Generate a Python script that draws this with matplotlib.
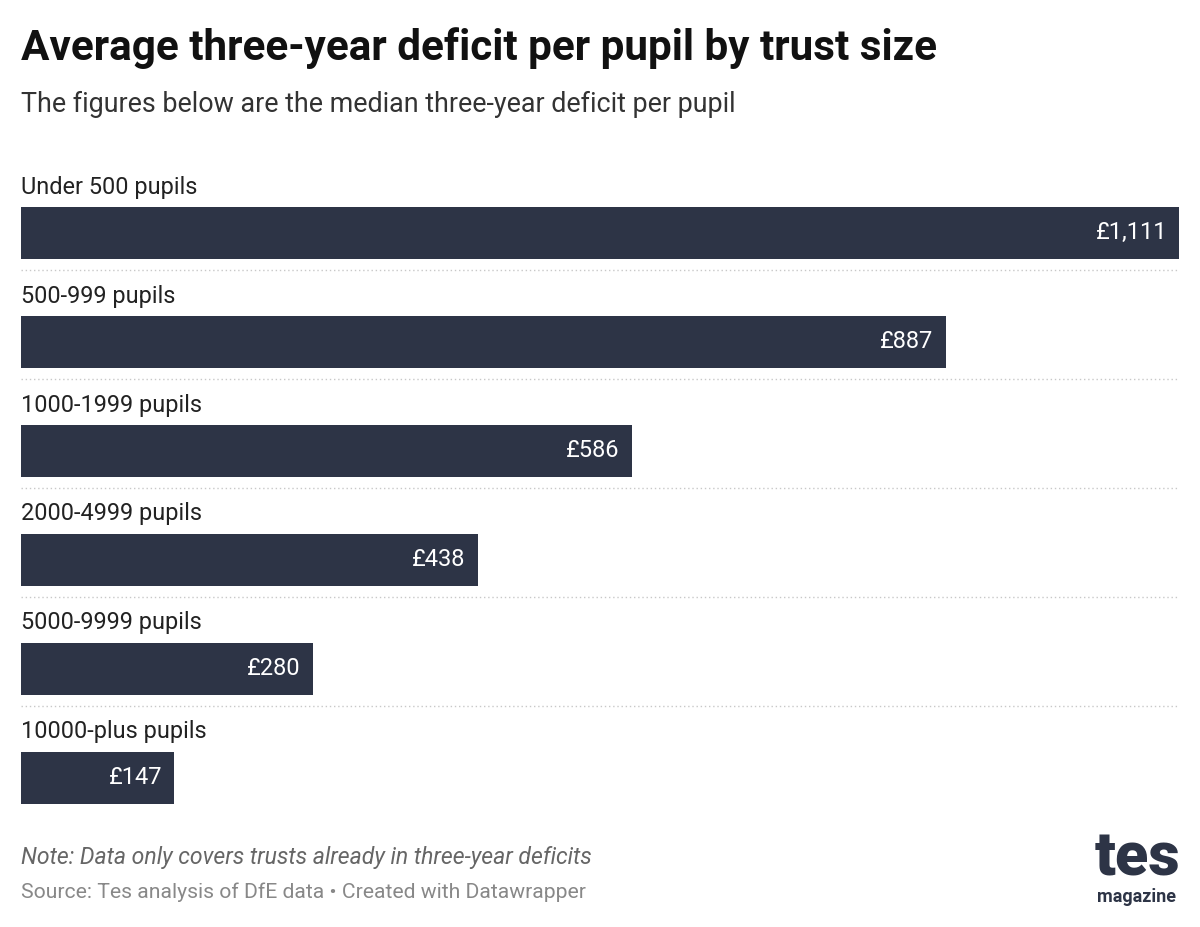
import matplotlib
matplotlib.use("Agg")
import matplotlib.pyplot as plt

plt.rcParams['font.family'] = ['Roboto', 'DejaVu Sans']

groups = ['Under 500 pupils', '500-999 pupils', '1000-1999 pupils',
          '2000-4999 pupils', '5000-9999 pupils', '10000-plus pupils']
deficit = [1111, 887, 586, 438, 280, 147]
value_labels = ['£1,111', '£887', '£586', '£438', '£280', '£147']

bar_col = '#2d3446'

fig = plt.figure(figsize=(12, 9.27), dpi=100)
ax = fig.add_axes([21/1200, 1 - 832/927, 1158/1200, 708/927])

ypos = list(range(len(groups)))
ax.barh(ypos, deficit, height=0.477, color=bar_col)
ax.set_xlim(0, max(deficit))
ax.set_ylim(5.5, -1.0)
ax.axis('off')

for i, (g, v, lab) in enumerate(zip(groups, deficit, value_labels)):
    ax.text(0, i - 0.36, g, ha='left', va='baseline', fontsize=16.9, color='#222222')
    ax.annotate(lab, (v, i), xytext=(-12, 0), textcoords='offset pixels',
                ha='right', va='center', fontsize=17, color='white')
    if i < len(groups) - 1:
        ax.axhline(i + 0.34, color='#c8c8c8', lw=1, ls=(0, (1, 2)))

fig.text(21/1200, 1 - 60/927, 'Average three-year deficit per pupil by trust size',
         fontsize=30.4, fontweight='bold', color='#111111', ha='left', va='baseline')
fig.text(21/1200, 1 - 112/927, 'The figures below are the median three-year deficit per pupil',
         fontsize=19.4, color='#333333', ha='left', va='baseline')
fig.text(21/1200, 1 - 864/927, 'Note: Data only covers trusts already in three-year deficits',
         fontsize=16.6, style='italic', color='#666666', ha='left', va='baseline')
fig.text(21/1200, 1 - 898/927, 'Source: Tes analysis of DfE data \u2022 Created with Datawrapper',
         fontsize=15.2, color='#888888', ha='left', va='baseline')

# logo
fig.text(1137/1200, 1 - 876/927, 'tes', fontsize=44, fontweight='black', color=bar_col,
         ha='center', va='baseline')
fig.text(1137/1200, 1 - 902/927, 'magazine', fontsize=13, fontweight='bold', color=bar_col,
         ha='center', va='baseline')

fig.savefig('out.png', dpi=100, facecolor='white')
